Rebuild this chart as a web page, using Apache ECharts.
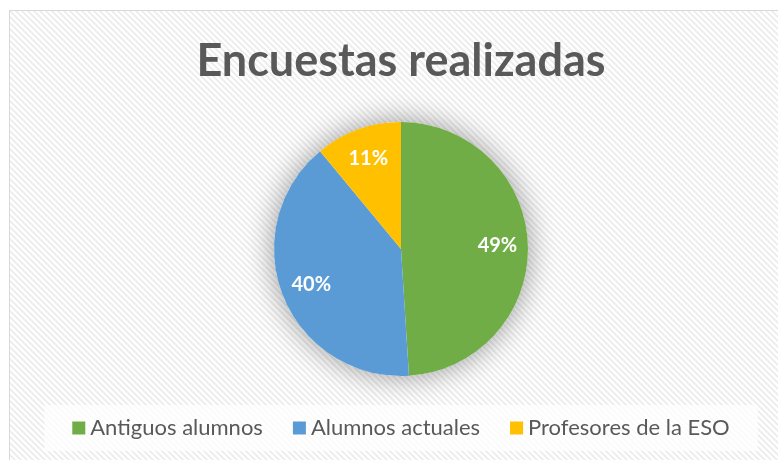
<!DOCTYPE html>
<html>
<head>
<meta charset="utf-8">
<script src="https://cdn.jsdelivr.net/npm/echarts@6/dist/echarts.min.js"></script>
<style>
  html, body { margin: 0; padding: 0; background: #fff; overflow: hidden; }
  #chart {
    position: absolute;
    left: 9px;
    top: 10px;
    width: 782px;
    height: 450px;
    border-left: 1px solid #d9d9d9;
    border-top: 1px solid #d9d9d9;
  }
</style>
</head>
<body>
<div id="chart"></div>
<script>
// datos de la encuesta
var categories = ['Antiguos alumnos', 'Alumnos actuales', 'Profesores de la ESO'];
var values = [49, 40, 11];
var colors = ['#70AD47', '#5B9BD5', '#FFC000'];

// fondo rayado tipo Excel
function hatch() {
  var c = document.createElement('canvas');
  c.width = 6;
  c.height = 6;
  var ctx = c.getContext('2d');
  ctx.fillStyle = '#ffffff';
  ctx.fillRect(0, 0, 6, 6);
  ctx.strokeStyle = '#ececec';
  ctx.lineWidth = 1.8;
  ctx.beginPath();
  ctx.moveTo(-1, -1); ctx.lineTo(7, 7);
  ctx.moveTo(-1, 5); ctx.lineTo(1, 7);
  ctx.moveTo(5, -1); ctx.lineTo(7, 1);
  ctx.stroke();
  return c;
}

var font = 'Lato, "Open Sans", sans-serif';
var pieData = categories.map(function (name, i) {
  return { name: name, value: values[i], itemStyle: { color: colors[i] } };
});

var chart = echarts.init(document.getElementById('chart'));
chart.setOption({
  backgroundColor: { image: hatch(), repeat: 'repeat' },
  animation: false,
  title: {
    text: 'Encuestas realizadas',
    left: 'center',
    top: 23,
    textStyle: { fontFamily: font, fontSize: 45, fontWeight: 'bold', color: '#595959' }
  },
  legend: {
    data: categories,
    left: 'center',
    bottom: 10,
    padding: [12, 28],
    backgroundColor: 'rgba(255,255,255,0.75)',
    itemGap: 30,
    itemWidth: 13,
    itemHeight: 13,
    icon: 'rect',
    selectedMode: false,
    textStyle: { fontFamily: font, fontSize: 22, color: '#595959' }
  },
  series: [
    {
      // tarta principal
      type: 'pie',
      z: 3,
      center: [391, 238],
      radius: [0, 127],
      startAngle: 90,
      label: { show: false },
      labelLine: { show: false },
      data: pieData
    },
    {
      // solo etiquetas, desplazadas hacia fuera
      type: 'pie',
      z: 4,
      silent: true,
      legendHoverLink: false,
      center: [391, 238],
      radius: [60, 127],
      startAngle: 90,
      itemStyle: { color: 'rgba(0,0,0,0)' },
      label: {
        show: true,
        position: 'inside',
        formatter: '{d}%',
        fontFamily: font,
        fontSize: 20,
        fontWeight: 'bold',
        color: '#ffffff'
      },
      labelLine: { show: false },
      data: categories.map(function (name, i) { return { name: name, value: values[i] }; })
    },
    {
      // sombra difusa
      type: 'pie',
      z: 1,
      silent: true,
      center: [391, 238],
      radius: [0, 127],
      label: { show: false },
      itemStyle: { color: '#ffffff', shadowBlur: 30, shadowColor: 'rgba(0,0,0,0.4)' },
      data: [{ name: 'sombra', value: 1 }]
    }
  ]
});
</script>
</body>
</html>
